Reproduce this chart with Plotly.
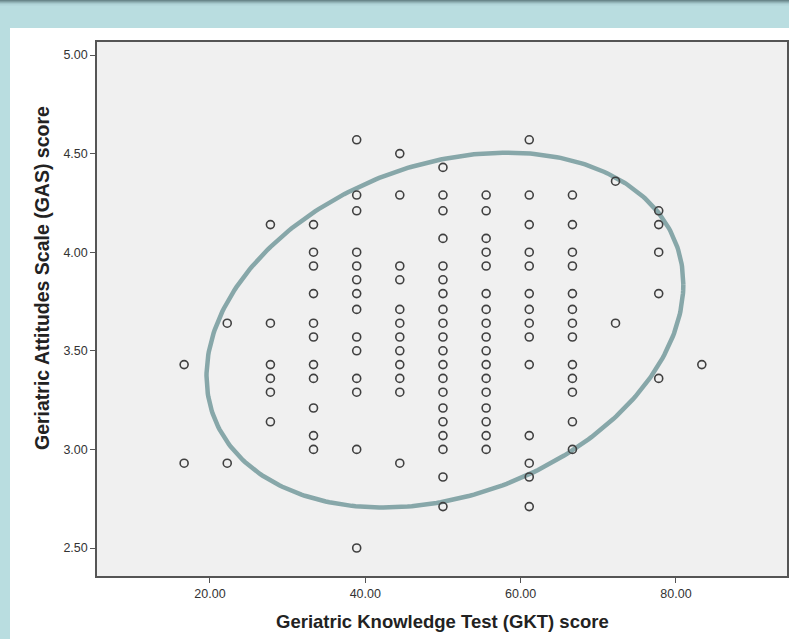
import plotly.graph_objects as go
import numpy as np

# GKT score levels (x) and GAS scores observed at each level (y)
gkt_levels = [16.67, 22.22, 27.78, 33.33, 38.89, 44.44, 50.00, 55.56, 61.11, 66.67, 72.22, 77.78, 83.33]
gas_at_16 = [3.43, 2.93]
gas_at_22 = [3.64, 2.93]
gas_at_27 = [4.14, 3.64, 3.43, 3.36, 3.29, 3.14]
gas_at_33 = [4.14, 4.00, 3.93, 3.79, 3.64, 3.57, 3.43, 3.36, 3.21, 3.07, 3.00]
gas_at_38 = [4.57, 4.29, 4.21, 4.00, 3.93, 3.86, 3.79, 3.71, 3.57, 3.50, 3.36, 3.29, 3.00, 2.50]
gas_at_44 = [4.50, 4.29, 3.93, 3.86, 3.71, 3.64, 3.57, 3.50, 3.43, 3.36, 3.29, 2.93]
gas_at_50 = [4.43, 4.29, 4.21, 4.07, 3.93, 3.86, 3.79, 3.71, 3.64, 3.57, 3.50, 3.43, 3.36, 3.29,
             3.21, 3.14, 3.07, 3.00, 2.86, 2.71]
gas_at_55 = [4.29, 4.21, 4.07, 4.00, 3.93, 3.79, 3.71, 3.64, 3.57, 3.50, 3.43, 3.36, 3.29, 3.21,
             3.14, 3.07, 3.00]
gas_at_61 = [4.57, 4.29, 4.14, 4.00, 3.93, 3.79, 3.71, 3.64, 3.57, 3.43, 3.07, 2.93, 2.86, 2.71]
gas_at_66 = [4.29, 4.14, 4.00, 3.93, 3.79, 3.71, 3.64, 3.57, 3.43, 3.36, 3.29, 3.14, 3.00]
gas_at_72 = [4.36, 3.64]
gas_at_77 = [4.21, 4.14, 4.00, 3.79, 3.36]
gas_at_83 = [3.43]

gas_columns = [gas_at_16, gas_at_22, gas_at_27, gas_at_33, gas_at_38, gas_at_44, gas_at_50,
               gas_at_55, gas_at_61, gas_at_66, gas_at_72, gas_at_77, gas_at_83]

x_ticks = [20, 40, 60, 80]
y_ticks = [2.5, 3.0, 3.5, 4.0, 4.5, 5.0]
x_title = "Geriatric Knowledge Test (GKT) score"
y_title = "Geriatric Attitudes Scale (GAS) score"

# highlight ellipse (data units): centre, half-extents and phase
ell_cx, ell_cy = 50.25, 3.605
ell_rx, ell_ry = 30.7, 0.90
ell_phase_deg = 75

x_vals = []
y_vals = []
for gx, col in zip(gkt_levels, gas_columns):
    for gy in col:
        x_vals.append(gx)
        y_vals.append(gy)

# page geometry (pixels)
W, H = 789, 639
ML, MR, MT, MB = 97, 2, 42, 63
pw, ph = W - ML - MR, H - MT - MB

def px_x(p):
    return (p - ML) / pw

def px_y(p):
    return 1 - (p - MT) / ph

fig = go.Figure()

# ellipse
t = np.linspace(0, 2 * np.pi, 361)
d = np.deg2rad(ell_phase_deg)
ex = ell_cx + ell_rx * np.cos(t)
ey = ell_cy + ell_ry * np.cos(t - d)
fig.add_trace(go.Scatter(x=ex, y=ey, mode="lines",
                         line=dict(color="#87a7a9", width=4.5),
                         hoverinfo="skip", showlegend=False))

fig.add_trace(go.Scatter(
    x=x_vals, y=y_vals, mode="markers",
    marker=dict(symbol="circle-open", size=8, color="#404040",
                line=dict(width=1.6, color="#404040")),
    showlegend=False))

shapes = []
# top light-blue band
shapes.append(dict(type="rect", xref="paper", yref="paper",
                   x0=px_x(0), x1=px_x(W), y0=px_y(28), y1=px_y(0),
                   fillcolor="#b9dde0", line=dict(width=0), layer="below"))
# darker shade at very top
for i, c in enumerate(["#6a878b", "#7f9ea2", "#93b4b8", "#a5c8cc", "#b1d4d8"]):
    shapes.append(dict(type="rect", xref="paper", yref="paper",
                       x0=px_x(0), x1=px_x(W), y0=px_y(i + 1.5), y1=px_y(i),
                       fillcolor=c, line=dict(width=0), layer="below"))
# left strip
shapes.append(dict(type="rect", xref="paper", yref="paper",
                   x0=px_x(0), x1=px_x(10), y0=px_y(H), y1=px_y(28),
                   fillcolor="#b9dde0", line=dict(width=0), layer="below"))

font_family = "Liberation Sans, Arial, sans-serif"

annotations = [
    dict(text="<b>%s</b>" % x_title, xref="paper", yref="paper",
         x=0.5, y=px_y(621), xanchor="center", yanchor="middle", showarrow=False,
         font=dict(size=18.5, color="#222222", family=font_family)),
    dict(text="<b>%s</b>" % y_title, xref="paper", yref="paper",
         x=px_x(42), y=px_y(278), xanchor="center", yanchor="middle", showarrow=False,
         textangle=-90, font=dict(size=19.5, color="#222222", family=font_family)),
]

fig.update_layout(
    width=W, height=H,
    margin=dict(l=ML, r=MR, t=MT, b=MB, autoexpand=False),
    paper_bgcolor="white",
    plot_bgcolor="#f0f0f0",
    shapes=shapes,
    annotations=annotations,
    font=dict(family=font_family, color="#333333"),
    xaxis=dict(range=[5.45, 94.3], tickvals=x_ticks, tickformat=".2f",
               showgrid=False, zeroline=False, showline=True, mirror=True,
               linecolor="#555555", linewidth=1.5,
               ticks="outside", ticklen=5, tickcolor="#555555", tickwidth=1.2,
               tickfont=dict(size=12.5, color="#333333")),
    yaxis=dict(range=[2.358, 5.066], tickvals=y_ticks, tickformat=".2f",
               showgrid=False, zeroline=False, showline=True, mirror=True,
               linecolor="#555555", linewidth=1.5,
               ticks="outside", ticklen=5, tickcolor="#555555", tickwidth=1.2,
               tickfont=dict(size=12.5, color="#333333")),
)

fig.write_html("out.html", config={"displayModeBar": False},
               post_script="document.body.style.margin='0';document.body.style.overflow='hidden';")
